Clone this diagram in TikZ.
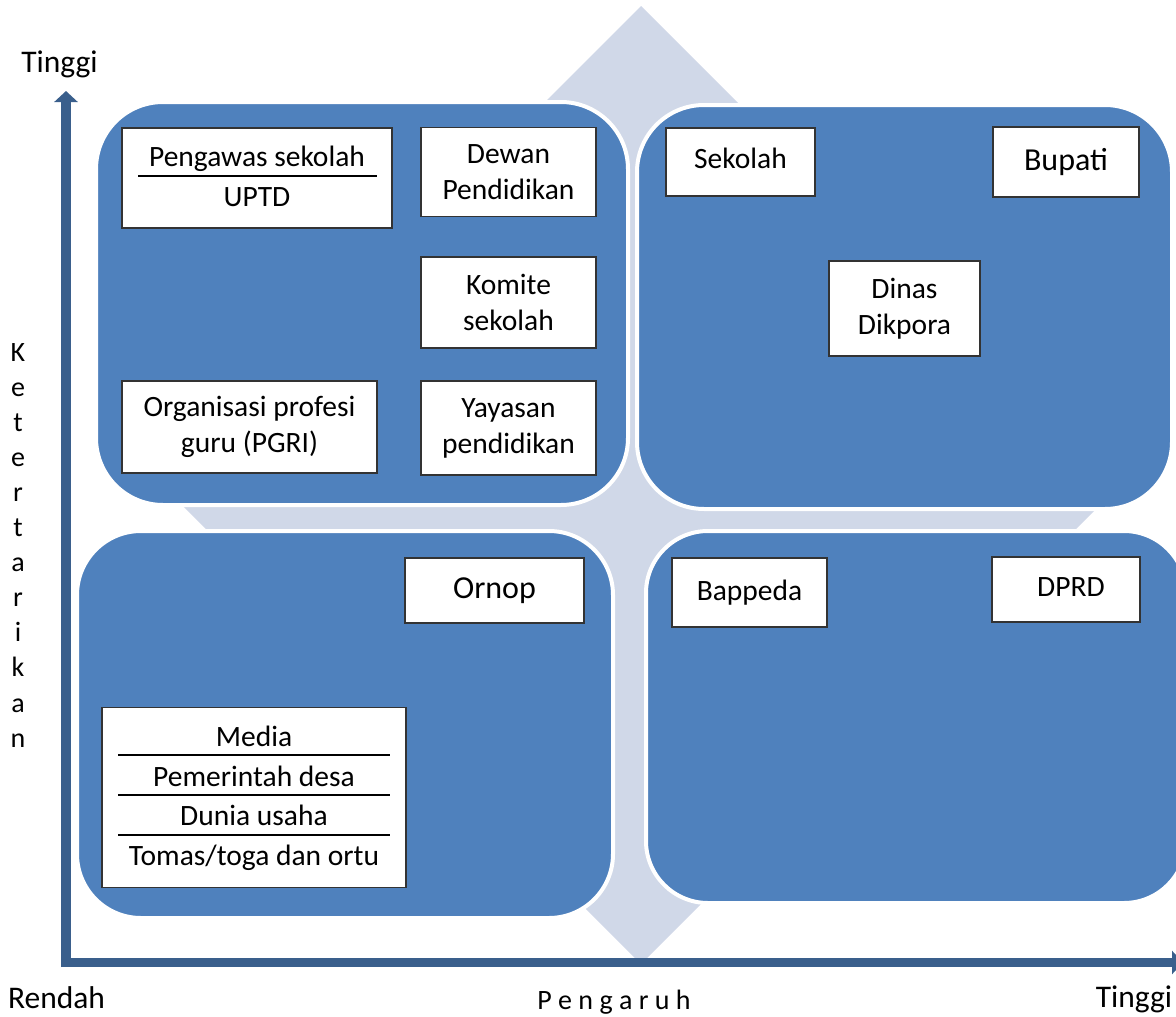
\documentclass[tikz,border=0pt]{standalone}
\usepackage{fontspec}
\setmainfont{Carlito}
\usetikzlibrary{arrows.meta}
\definecolor{quadblue}{HTML}{4F81BD}
\definecolor{diamondgray}{HTML}{D0D8E8}
\definecolor{axisblue}{HTML}{3A5F8C}
\begin{document}
\begin{tikzpicture}[x=1pt,y=-1pt,
  quad/.style={draw=white,line width=4pt,fill=quadblue,inner sep=0pt},
  whitebox/.style={draw=black!80,line width=1.5pt,fill=white,inner sep=0pt,align=center,
    font=\fontsize{29.5}{36}\selectfont},
  bigtext/.style={font=\fontsize{32}{38}\selectfont},
  plaintext/.style={inner sep=0pt,font=\fontsize{29.5}{36}\selectfont},
  lettertext/.style={inner sep=0pt,font=\fontsize{28}{35}\selectfont},
  labeltext/.style={inner sep=0pt,font=\fontsize{31.5}{37}\selectfont},
  divider/.style={draw=black,line width=2pt},
  axisline/.style={draw=axisblue,line width=9.5pt,line cap=butt,
    -{Triangle[width=23pt,length=11pt]}}
]
\useasboundingbox (0,0) rectangle (1176,1017);
\clip (0,0) rectangle (1176,1017);

% background diamond
\fill[diamondgray] (641,6) -- (1120,485) -- (641,964) -- (162,485) -- cycle;

% quadrants
\node[quad,minimum width=532pt,minimum height=403pt,rounded corners=67pt] (qtl) at (362,303.5) {};
\node[quad,minimum width=535pt,minimum height=404pt,rounded corners=67pt] (qtr) at (904.5,307) {};
\node[quad,minimum width=536pt,minimum height=387pt,rounded corners=64pt] (qbl) at (345,724.5) {};
\node[quad,minimum width=540pt,minimum height=372pt,rounded corners=62pt] (qbr) at (916,717) {};

% top-left boxes
\node[whitebox,minimum width=270pt,minimum height=100pt] (pengawas) at (257,178) {};
\node[plaintext,anchor=base] (tpengawas) at (257,166) {Pengawas sekolah};
\node[plaintext,anchor=base] (tuptd) at (257,206) {UPTD};
\coordinate (pl1) at (138,176);
\coordinate (pl2) at (377,176);
\draw[divider] (pl1) -- (pl2);

\node[whitebox,minimum width=175pt,minimum height=89pt] (dewan) at (508.5,172) {Dewan\\Pendidikan};
\node[whitebox,minimum width=175pt,minimum height=91pt] (komite) at (508.5,302.5) {Komite\\sekolah};
\node[whitebox,minimum width=255pt,minimum height=92pt] (pgri) at (249.5,427) {Organisasi profesi\\guru (PGRI)};
\node[whitebox,minimum width=175pt,minimum height=94pt] (yayasan) at (508.5,428) {Yayasan\\pendidikan};

% top-right boxes
\node[whitebox,minimum width=149pt,minimum height=68pt] (sekolah) at (740.5,162) {};
\node[plaintext,anchor=base] (tsekolah) at (740.5,168) {Sekolah};
\node[whitebox,bigtext,minimum width=146pt,minimum height=70pt] (bupati) at (1066,162) {Bupati};
\node[whitebox,minimum width=151pt,minimum height=95pt] (dinas) at (904.5,308.5) {Dinas\\Dikpora};

% bottom-left boxes
\node[whitebox,bigtext,minimum width=179pt,minimum height=65pt] (ornop) at (494.5,590.5) {Ornop};
\node[whitebox,minimum width=304pt,minimum height=180pt] (media) at (254,797.5) {};
\node[plaintext,anchor=base] (tmedia) at (254,746) {Media};
\node[plaintext,anchor=base] (tpemdes) at (254,786) {Pemerintah desa};
\node[plaintext,anchor=base] (tdunia) at (254,825) {Dunia usaha};
\node[plaintext,anchor=base] (ttomas) at (254,865) {Tomas/toga dan ortu};
\coordinate (ml1a) at (118,755); \coordinate (ml1b) at (390,755);
\coordinate (ml2a) at (118,795); \coordinate (ml2b) at (390,795);
\coordinate (ml3a) at (118,835); \coordinate (ml3b) at (390,835);
\draw[divider] (ml1a) -- (ml1b);
\draw[divider] (ml2a) -- (ml2b);
\draw[divider] (ml3a) -- (ml3b);

% bottom-right boxes
\node[whitebox,minimum width=155pt,minimum height=69pt] (bappeda) at (749.5,592.5) {Bappeda};
\node[whitebox,minimum width=148pt,minimum height=65pt] (dprd) at (1066,589.5) {};
\node[plaintext,anchor=base] (tdprd) at (1071,596) {DPRD};

% axes
\coordinate (axO) at (66,967);
\coordinate (axT) at (66,91);
\coordinate (axL) at (61,962.5);
\coordinate (axR) at (1183,962.5);
\draw[axisline] (axO) -- (axT);
\draw[axisline] (axL) -- (axR);

% axis labels
\node[labeltext,anchor=base] (ltop) at (59.5,72) {Tinggi};
\node[labeltext,anchor=base] (lrendah) at (56.5,1008) {Rendah};
\node[labeltext,anchor=base] (lright) at (1134,1007) {Tinggi};
\node[lettertext,anchor=base] (lpengaruh) at (614,1009) {P e n g a r u h};
\foreach \l [count=\i] in {K,e,t,e,r,t,a,r,i,k,a,n}
  \node[lettertext,anchor=base] (v\i) at (18,{361+(\i-1)*35.1}) {\l};
\end{tikzpicture}
\end{document}
